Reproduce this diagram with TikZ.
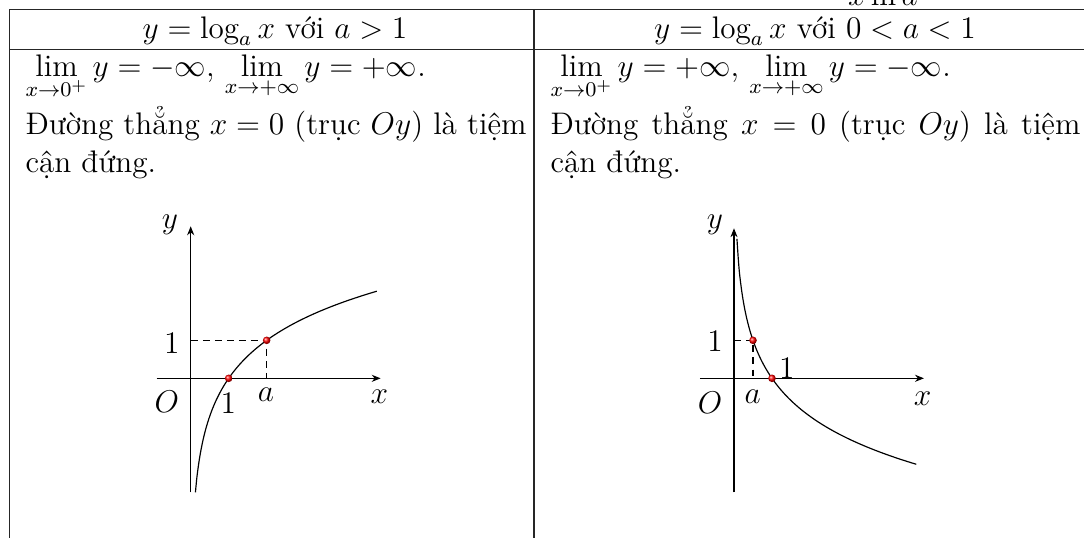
\documentclass[tikz,border=0pt]{standalone}
\usepackage{fontspec}
\usetikzlibrary{arrows.meta}
\begin{document}
\begin{tikzpicture}[x=0.3817pt,y=-0.3817pt,font=\fontsize{11.9}{14.5}\selectfont,
  tline/.style={line width=0.4pt,black!85},
  axis/.style={line width=0.4pt,-{Stealth[length=3.4pt,width=2.7pt]}},
  curve/.style={line width=0.45pt},
  guide/.style={line width=0.4pt,dash pattern=on 2.6pt off 2pt},
  dot/.style={ball color=red},
  txt/.style={anchor=base west,inner sep=0pt},
  lbl/.style={inner sep=0pt}]
\useasboundingbox (0,0) rectangle (1084,537);
% table frame
\coordinate (tl) at (9.5,9.3);
\coordinate (tr) at (1095,9.3);
\coordinate (hl) at (9.5,49.3);
\coordinate (hr) at (1095,49.3);
\coordinate (bl) at (9.5,540);
\coordinate (mt) at (534,9.3);
\coordinate (mb) at (534,540);
\draw[tline] (bl) -- (tl) -- (tr);
\draw[tline] (hl) -- (hr);
\draw[tline] (mt) -- (mb);
% fragment of the previous row
\node[anchor=base] (frag) at (883,5) {$x\ln a$};
% headers
\node[anchor=base] (h1) at (275,38) {$y=\log_a x$ với $a>1$};
\node[anchor=base] (h2) at (815,38) {$y=\log_a x$ với $0<a<1$};
% left column text
\node[txt] (l1) at (25,76) {$\lim\limits_{x\to0^+} y=-\infty$, $\lim\limits_{x\to+\infty} y=+\infty$.};
\node[txt] (l2) at (25,134) {Đường thẳng $x=0$ (trục $Oy$) là tiệm};
\node[txt] (l3) at (25,172) {cận đứng.};
% right column text
\node[txt] (r1) at (550,76) {$\lim\limits_{x\to0^+} y=+\infty$, $\lim\limits_{x\to+\infty} y=-\infty$.};
\node[txt] (r2) at (550,134) {\makebox[202.3pt][s]{Đường thẳng $x=0$ (trục $Oy$) là tiệm}};
\node[txt] (r3) at (550,172) {cận đứng.};
% left graph
\begin{scope}[shift={(190.7,378.3)},x=14.5pt,y=14.5pt]
  \coordinate (a1w) at (-0.9,0); \coordinate (a1e) at (5,0);
  \coordinate (a1s) at (0,-3); \coordinate (a1n) at (0,4);
  \coordinate (a1y) at (0,1); \coordinate (a1p) at (2,1); \coordinate (a1q) at (2,0);
  \coordinate (a1one) at (1,0);
  \draw[axis] (a1w) -- (a1e);
  \draw[axis] (a1s) -- (a1n);
  \draw[guide] (a1y) -- (a1p) -- (a1q);
  \draw[curve] plot[domain=0.125:4.9,samples=150,smooth] (\x,{ln(\x)/ln(2)});
  \shade[dot] (a1one) circle[radius=1.45pt];
  \shade[dot] (a1p) circle[radius=1.45pt];
\end{scope}
\node[lbl] (y1) at (170,225) {$y$};
\node[lbl] (x1) at (379.3,396.7) {$x$};
\node[lbl] (o1) at (166.7,401.7) {$O$};
\node[lbl] (one1x) at (228.3,403.3) {$1$};
\node[lbl] (a1) at (266,395) {$a$};
\node[lbl] (one1y) at (171.7,343.3) {$1$};
% right graph
\begin{scope}[shift={(734,378.3)},x=14.5pt,y=14.5pt]
  \coordinate (a2w) at (-0.9,0); \coordinate (a2e) at (5,0);
  \coordinate (a2s) at (0,-3); \coordinate (a2n) at (0,3.95);
  \coordinate (a2y) at (0,1); \coordinate (a2p) at (0.5,1); \coordinate (a2q) at (0.5,0);
  \coordinate (a2one) at (1,0);
  \draw[axis] (a2w) -- (a2e);
  \draw[axis] (a2s) -- (a2n);
  \draw[guide] (a2y) -- (a2p) -- (a2q);
  \draw[curve] plot[domain=0.078:4.8,samples=150,smooth] (\x,{-ln(\x)/ln(2)});
  \shade[dot] (a2one) circle[radius=1.45pt];
  \shade[dot] (a2p) circle[radius=1.45pt];
\end{scope}
\node[lbl] (y2) at (715,225) {$y$};
\node[lbl] (x2) at (922.7,398.3) {$x$};
\node[lbl] (o2) at (710,402.7) {$O$};
\node[lbl] (one2x) at (786.7,368.3) {$1$};
\node[lbl] (a2) at (752.7,396.7) {$a$};
\node[lbl] (one2y) at (715,341.7) {$1$};
\end{tikzpicture}
\end{document}
